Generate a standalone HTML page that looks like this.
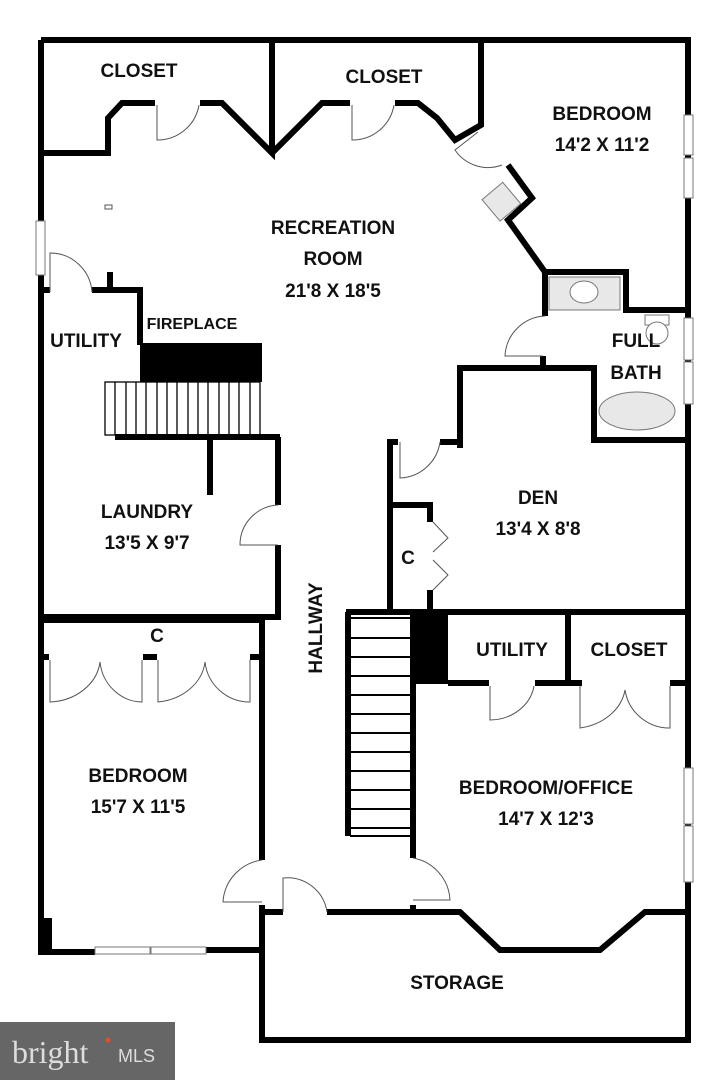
<!DOCTYPE html>
<html><head><meta charset="utf-8"><style>
html,body{margin:0;padding:0;background:#fff;width:728px;height:1080px;overflow:hidden}
svg{display:block}
text{font-family:"Liberation Sans",sans-serif;font-weight:bold;fill:#111;font-size:19px}
</style></head><body>
<svg width="728" height="1080" viewBox="0 0 728 1080">
<g fill="none" stroke="#000" stroke-width="6" stroke-linejoin="miter">
<path d="M41,40 H688 V1040 H262 V912"/>
<path d="M41,40 V952 H95"/>
<path d="M205,950 H262 V905"/>
<path d="M41,153 H108 V118 L122,103 H155"/>
<path d="M200,103 H222 L272,153 V40"/>
<path d="M272,153 L322,103 H350"/>
<path d="M395,103 H418 L437,118 L455,140 L481,125 V40"/>
<path d="M508,165 L532,198 L508,220 L545,272 H626 V310 H688"/>
<path d="M545,272 V316"/>
<path d="M543,356 V368"/>
<path d="M460,448 V368 H594 V440 H688"/>
<path d="M460,442 H440"/>
<path d="M398,442 H390 V610"/>
<path d="M390,505 H430 V522"/>
<path d="M430,590 V610"/>
<path d="M346,612 H688"/>
<path d="M41,290 H50"/>
<path d="M92,290 H140 V345"/>
<path d="M110,290 V272"/>
<path d="M115,437 H280"/>
<path d="M210,437 V495"/>
<path d="M278,437 V505"/>
<path d="M278,545 V617 H41"/>
<path d="M41,620 H262 V860"/>
<path d="M262,905 V912 H283"/>
<path d="M327,912 H460 L500,950 H600 L645,912 H688"/>
<path d="M348,612 V836"/>
<path d="M413,683 V858"/>
<path d="M413,905 V912"/>
<path d="M448,683 H489"/>
<path d="M535,683 H582"/>
<path d="M670,683 H688"/>
<path d="M568,612 V683"/>
<path d="M41,657 H49 M143,657 H157 M250,657 H259"/>
</g>
<rect x="140" y="343" width="122" height="39" fill="#000"/>
<rect x="410" y="612" width="38" height="72" fill="#000"/>
<rect x="38" y="918" width="14" height="34" fill="#000"/>
<g stroke="#000" stroke-width="1.3" fill="none">
<rect x="105" y="382" width="155" height="53"/>
<path d="M115,382V435M126,382V435M136,382V435M146,382V435M157,382V435M167,382V435M177,382V435M188,382V435M198,382V435M208,382V435M219,382V435M229,382V435M239,382V435M250,382V435"/>
</g>
<g stroke="#000" stroke-width="2" fill="none">
<path d="M350,618H410M350,638H410M350,657H410M350,676H410M350,695H410M350,714H410M350,733H410M350,752H410M350,771H410M350,790H410M350,809H410M350,828H410"/>
<path d="M350,836H410"/>
</g>
<g stroke="#555" stroke-width="1" fill="none">
<path d="M157,105 V140 A42,42 0 0 0 199,105"/>
<path d="M352,105 V140 A42,42 0 0 0 394,105"/>
<path d="M50,292 V253 A42,42 0 0 1 92,292"/>
<path d="M478,132 L455,150 A40,40 0 0 0 502,165"/>
<path d="M545,316 A42,42 0 0 0 505,356 H543"/>
<path d="M400,442 V478 A42,42 0 0 0 440,442"/>
<path d="M433,522 L448,538 L433,552 M433,560 L448,575 L433,590"/>
<path d="M278,505 A40,40 0 0 0 240,545 H278"/>
<path d="M50,660 V702 A53,45 0 0 0 100,662 A43,45 0 0 0 142,702 V660"/>
<path d="M158,660 V702 A53,45 0 0 0 205,662 A45,45 0 0 0 250,702 V660"/>
<path d="M262,860 A45,45 0 0 0 223,902 H262"/>
<path d="M283,912 V878 A40,40 0 0 1 327,912"/>
<path d="M413,858 A45,45 0 0 1 450,900 H413"/>
<path d="M490,686 V720 A45,40 0 0 0 534,686"/>
<path d="M580,686 V728 A55,45 0 0 0 625,690 A45,45 0 0 0 670,728 V686"/>
<rect x="105" y="205" width="7" height="4"/>
</g>
<rect x="549" y="277" width="71" height="33" fill="#e8e8e8" stroke="#777"/>
<ellipse cx="584" cy="292" rx="14" ry="11" fill="#fff" stroke="#777"/>
<g transform="rotate(-40 501 202)"><rect x="488" y="188" width="27" height="28" fill="#e8e8e8" stroke="#777"/></g>
<ellipse cx="637" cy="411" rx="38" ry="19" fill="#e8e8e8" stroke="#777"/>
<rect x="645" y="315" width="24" height="10" fill="#fff" stroke="#777"/>
<ellipse cx="657" cy="333" rx="11" ry="11" fill="#fff" stroke="#777"/>
<g fill="#fff" stroke="#777" stroke-width="1">
<rect x="36" y="221" width="9" height="54"/>
<rect x="684" y="115" width="9" height="40"/><rect x="684" y="158" width="9" height="40"/>
<rect x="684" y="318" width="9" height="42"/><rect x="684" y="362" width="9" height="42"/>
<rect x="684" y="768" width="9" height="56"/><rect x="684" y="826" width="9" height="56"/>
<rect x="95" y="947" width="55" height="7"/><rect x="151" y="947" width="55" height="7"/>
</g>
<text x="139" y="77" text-anchor="middle">CLOSET</text>
<text x="384" y="83" text-anchor="middle">CLOSET</text>
<text x="602" y="120" text-anchor="middle">BEDROOM</text>
<text x="602" y="151" text-anchor="middle">14'2 X 11'2</text>
<text x="333" y="234" text-anchor="middle">RECREATION</text>
<text x="333" y="265" text-anchor="middle">ROOM</text>
<text x="333" y="297" text-anchor="middle">21'8 X 18'5</text>
<text x="192" y="329" text-anchor="middle" style="font-size:16px">FIREPLACE</text>
<text x="86" y="347" text-anchor="middle">UTILITY</text>
<text x="636" y="347" text-anchor="middle">FULL</text>
<text x="636" y="379" text-anchor="middle">BATH</text>
<text x="147" y="518" text-anchor="middle">LAUNDRY</text>
<text x="147" y="549" text-anchor="middle">13'5 X 9'7</text>
<text x="538" y="504" text-anchor="middle">DEN</text>
<text x="538" y="535" text-anchor="middle">13'4 X 8'8</text>
<text x="408" y="564" text-anchor="middle">C</text>
<text x="157" y="642" text-anchor="middle">C</text>
<text transform="translate(322,628) rotate(-90)" text-anchor="middle">HALLWAY</text>
<text x="512" y="656" text-anchor="middle">UTILITY</text>
<text x="629" y="656" text-anchor="middle">CLOSET</text>
<text x="138" y="782" text-anchor="middle">BEDROOM</text>
<text x="138" y="813" text-anchor="middle">15'7 X 11'5</text>
<text x="546" y="794" text-anchor="middle">BEDROOM/OFFICE</text>
<text x="546" y="825" text-anchor="middle">14'7 X 12'3</text>
<text x="457" y="989" text-anchor="middle">STORAGE</text>
<rect x="0" y="1022" width="175" height="58" fill="#666"/>
<text x="12" y="1063" style="font-family:'Liberation Serif',serif;font-size:32px;fill:#ddd;font-weight:normal">bright</text>
<text x="118" y="1062" style="font-size:18px;fill:#ddd;font-weight:normal">MLS</text>
<circle cx="108" cy="1040" r="2.5" fill="#e0502a"/>
</svg>
</body></html>
